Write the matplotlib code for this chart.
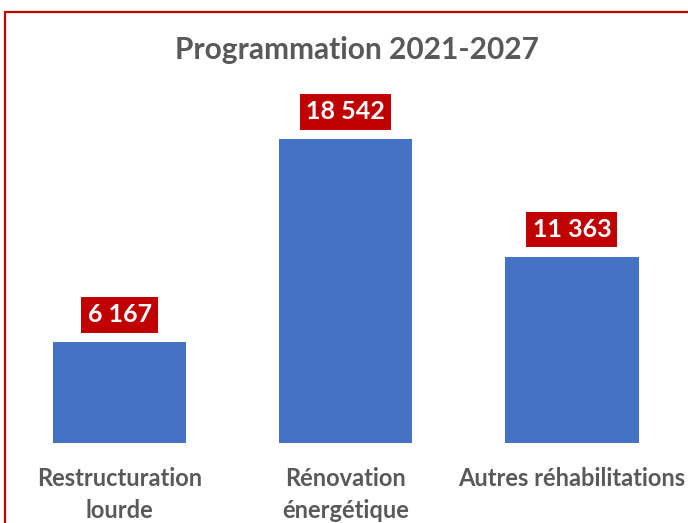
import matplotlib
matplotlib.use("Agg")
import matplotlib.pyplot as plt
from matplotlib.patches import Rectangle

categories = ["Restructuration\nlourde", "Rénovation\nénergétique", "Autres réhabilitations"]
values = [6167, 18542, 11363]
value_labels = ["6 167", "18 542", "11 363"]
title = "Programmation 2021-2027"

W, H = 688, 523
fig = plt.figure(figsize=(W / 100, H / 100), dpi=100)
fig.patch.set_facecolor("white")
plt.rcParams["font.family"] = ["Lato", "DejaVu Sans"]

# axes placement (pixel based)
left_px, right_px = 6.5, 685
bottom_px, top_px = 443, 12
ax = fig.add_axes([left_px / W, 1 - bottom_px / H, (right_px - left_px) / W, (bottom_px - top_px) / H])
ax.set_facecolor("none")

x = list(range(len(categories)))
bars = ax.bar(x, values, width=0.59, color="#4472C4")
ax.set_xlim(-0.5, 2.5)
ax.set_ylim(0, 26280)
for s in ax.spines.values():
    s.set_visible(False)
ax.set_yticks([])
ax.set_xticks(x)
ax.set_xticklabels(categories, fontsize=17, fontweight="bold", color="#595959", linespacing=1.5)
ax.tick_params(axis="x", length=0, pad=17)

for xi, v, lab in zip(x, values, value_labels):
    ax.annotate(lab, (xi, v), xytext=(0, 19.5), textcoords="offset points",
                ha="center", va="center", fontsize=18, fontweight="bold", color="white",
                bbox=dict(boxstyle="square,pad=0.25", facecolor="#C00000", edgecolor="none"))

fig.text(357 / W, 1 - 50 / H, title, ha="center", va="center", fontsize=21.5,
         fontweight="bold", color="#595959")

# red frame (partially cut at right and bottom)
fig.add_artist(Rectangle((5 / W, -0.05), 1.1, 1 - 12 / H + 0.05, transform=fig.transFigure,
                         fill=False, edgecolor="#C00000", linewidth=1.6))

fig.savefig("out.png", dpi=100)
